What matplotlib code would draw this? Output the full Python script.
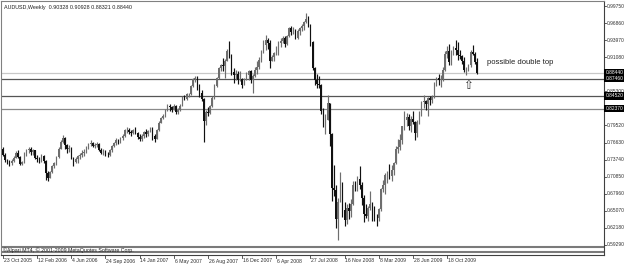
import matplotlib
matplotlib.use("Agg")
import matplotlib.pyplot as plt
import matplotlib.transforms as mtransforms
from matplotlib.lines import Line2D
import numpy as np

W, H = 625, 265

title_text = "AUDUSD,Weekly  0.90328 0.90928 0.88321 0.88440"
note_text = "possible double top"
copyright_text = "\u00a9Alpari MT4, \u00a9 2001-2009 MetaQuotes Software Corp."

# weekly candles, first bar = week of 23 Oct 2005
opens = [
    .7560, .7460, .7360, .7330, .7310, .7350, .7410, .7480, .7420, .7300,
    .7330, .7470, .7530, .7560, .7500, .7530, .7400, .7380, .7350, .7440,
    .7350, .7150, .7070, .7160, .7270, .7310, .7420, .7560, .7680, .7740,
    .7620, .7560, .7560, .7400, .7330, .7380, .7430, .7450, .7490, .7510,
    .7580, .7640, .7660, .7610, .7620, .7640, .7540, .7490, .7520, .7460,
    .7450, .7530, .7600, .7660, .7700, .7680, .7740, .7780, .7870, .7880,
    .7850, .7820, .7880, .7830, .7760, .7720, .7770, .7840, .7800, .7860,
    .7880, .7780, .7730, .7870, .8000, .8080, .8120, .8210, .8290, .8260,
    .8220, .8280, .8180, .8220, .8290, .8420, .8400, .8480, .8480, .8620,
    .8740, .8750, .8600, .8500, .8400, .8020, .8180, .8160, .8280, .8420,
    .8620, .8760, .8920, .8980, .8960, .9050, .9220, .9150, .8860, .8800,
    .8830, .8720, .8740, .8640, .8730, .8800, .8870, .8720, .8790, .8900,
    .8940, .9060, .9190, .9320, .9400, .9350, .9050, .9120, .9180, .9270,
    .9350, .9380, .9440, .9330, .9470, .9600, .9540, .9570, .9430, .9550,
    .9600, .9640, .9700, .9760, .9650, .9360, .8920, .8730, .8650, .8630,
    .8200, .8050, .8050, .8330, .7800, .6900, .6860, .6370, .6650, .6900,
    .6520, .6350, .6560, .6500, .6620, .6940, .6900, .7050, .6950, .6720,
    .6460, .6420, .6560, .6620, .6460, .6390, .6380, .6530, .6870, .6950,
    .7120, .7140, .7100, .7200, .7310, .7560, .7590, .7700, .7940, .8050,
    .8100, .7950, .8060, .8010, .7830, .8010, .8170, .8350, .8370, .8320,
    .8410, .8390, .8430, .8660, .8750, .8720, .8740, .8900, .9170, .9210,
    .9020, .9200, .9260, .9230, .9140, .9130, .9050, .8890, .8900, .8970,
    .9200, .9170, .90328,
]
highs = [
    .7590, .7480, .7380, .7360, .7380, .7430, .7520, .7530, .7440, .7350,
    .7500, .7560, .7590, .7580, .7560, .7540, .7450, .7420, .7470, .7460,
    .7370, .7180, .7180, .7290, .7330, .7440, .7580, .7700, .7790, .7760,
    .7640, .7620, .7580, .7420, .7420, .7450, .7480, .7530, .7550, .7600,
    .7660, .7700, .7680, .7650, .7670, .7660, .7570, .7560, .7540, .7500,
    .7550, .7620, .7680, .7740, .7720, .7760, .7800, .7890, .7920, .7910,
    .7880, .7900, .7920, .7850, .7800, .7800, .7860, .7890, .7880, .7920,
    .7920, .7800, .7890, .8020, .8100, .8140, .8230, .8320, .8320, .8290,
    .8320, .8300, .8250, .8320, .8450, .8460, .8500, .8500, .8640, .8760,
    .8790, .8790, .8660, .8560, .8420, .8210, .8260, .8300, .8450, .8660,
    .8770, .8950, .9000, .9090, .9080, .9250, .9380, .9170, .8920, .8890,
    .8880, .8880, .8760, .8760, .8850, .8900, .8900, .8820, .8940, .9040,
    .9120, .9230, .9400, .9480, .9440, .9400, .9150, .9200, .9290, .9390,
    .9440, .9460, .9460, .9490, .9620, .9640, .9620, .9590, .9580, .9620,
    .9670, .9720, .9850, .9800, .9670, .9390, .8950, .8830, .8790, .8660,
    .8250, .8150, .8460, .8340, .7820, .7280, .6950, .6720, .7160, .7000,
    .6660, .6630, .6640, .6700, .7010, .7020, .7100, .7270, .7000, .6780,
    .6620, .6590, .6850, .6660, .6590, .6450, .6550, .6890, .7030, .7150,
    .7190, .7300, .7280, .7340, .7600, .7720, .7800, .7950, .8200, .8170,
    .8140, .8110, .8200, .8030, .8050, .8200, .8370, .8460, .8390, .8440,
    .8450, .8470, .8680, .8780, .8830, .8800, .8950, .9220, .9290, .9330,
    .9230, .9300, .9400, .9370, .9230, .9150, .9110, .8940, .9000, .9230,
    .9320, .9200, .90928,
]
lows = [
    .7440, .7340, .7300, .7270, .7290, .7330, .7400, .7400, .7280, .7280,
    .7320, .7440, .7480, .7460, .7460, .7380, .7340, .7320, .7330, .7320,
    .7030, .7020, .7060, .7150, .7240, .7290, .7400, .7550, .7650, .7560,
    .7480, .7500, .7380, .7260, .7310, .7310, .7380, .7420, .7440, .7490,
    .7550, .7600, .7580, .7570, .7590, .7520, .7470, .7460, .7440, .7420,
    .7440, .7500, .7580, .7620, .7640, .7660, .7700, .7760, .7830, .7800,
    .7780, .7810, .7800, .7720, .7690, .7690, .7740, .7760, .7780, .7840,
    .7700, .7680, .7720, .7860, .7990, .8060, .8100, .8200, .8200, .8180,
    .8210, .8150, .8140, .8200, .8280, .8380, .8390, .8440, .8470, .8600,
    .8690, .8550, .8440, .8360, .7680, .7960, .8110, .8140, .8260, .8400,
    .8600, .8740, .8870, .8880, .8760, .9040, .9100, .8800, .8670, .8720,
    .8660, .8700, .8580, .8630, .8720, .8720, .8670, .8500, .8770, .8820,
    .8910, .9020, .9180, .9230, .9240, .8930, .9040, .9050, .9140, .9150,
    .9280, .9350, .9280, .9320, .9450, .9480, .9500, .9410, .9420, .9480,
    .9560, .9570, .9680, .9620, .9300, .8890, .8640, .8590, .8580, .8150,
    .7930, .7800, .8050, .7600, .6670, .6760, .6220, .6010, .6650, .6400,
    .6250, .6290, .6370, .6400, .6600, .6850, .6850, .6880, .6600, .6320,
    .6380, .6330, .6520, .6340, .6330, .6250, .6330, .6500, .6820, .6800,
    .6980, .7050, .7020, .7110, .7300, .7480, .7540, .7640, .7870, .7950,
    .7880, .7850, .7980, .7700, .7760, .7980, .8120, .8250, .8220, .8120,
    .8300, .8330, .8410, .8620, .8630, .8610, .8710, .8880, .9100, .8980,
    .8970, .9140, .9150, .9060, .9080, .9000, .8850, .8800, .8870, .8950,
    .9140, .9000, .88321,
]
closes = [
    .7460, .7360, .7330, .7310, .7350, .7410, .7480, .7420, .7300, .7330,
    .7470, .7530, .7560, .7500, .7530, .7400, .7380, .7350, .7440, .7350,
    .7150, .7070, .7160, .7270, .7310, .7420, .7560, .7680, .7740, .7620,
    .7560, .7560, .7400, .7330, .7380, .7430, .7450, .7490, .7510, .7580,
    .7640, .7660, .7610, .7620, .7640, .7540, .7490, .7520, .7460, .7450,
    .7530, .7600, .7660, .7700, .7680, .7740, .7780, .7870, .7880, .7850,
    .7820, .7880, .7830, .7760, .7720, .7770, .7840, .7800, .7860, .7880,
    .7780, .7730, .7870, .8000, .8080, .8120, .8210, .8290, .8260, .8220,
    .8280, .8180, .8220, .8290, .8420, .8400, .8480, .8480, .8620, .8740,
    .8750, .8600, .8500, .8400, .8020, .8180, .8160, .8280, .8420, .8620,
    .8760, .8920, .8980, .8960, .9050, .9220, .9150, .8860, .8800, .8830,
    .8720, .8740, .8640, .8730, .8800, .8870, .8720, .8790, .8900, .8940,
    .9060, .9190, .9320, .9400, .9350, .9050, .9120, .9180, .9270, .9350,
    .9380, .9440, .9330, .9470, .9600, .9540, .9570, .9430, .9550, .9600,
    .9640, .9700, .9760, .9650, .9360, .8920, .8730, .8650, .8630, .8200,
    .8050, .8050, .8330, .7800, .6900, .6860, .6370, .6650, .6900, .6520,
    .6350, .6560, .6500, .6620, .6940, .6900, .7050, .6950, .6720, .6460,
    .6420, .6560, .6620, .6460, .6390, .6380, .6530, .6870, .6950, .7120,
    .7140, .7100, .7200, .7310, .7560, .7590, .7700, .7940, .8050, .8100,
    .7950, .8060, .8010, .7830, .8010, .8170, .8350, .8370, .8320, .8410,
    .8390, .8430, .8660, .8750, .8720, .8740, .8900, .9170, .9210, .9020,
    .9200, .9260, .9230, .9140, .9130, .9050, .8890, .8900, .8970, .9200,
    .9170, .9030, .88440,
]

date_labels = ["23 Oct 2005", "12 Feb 2006", "4 Jun 2006", "24 Sep 2006",
               "14 Jan 2007", "6 May 2007", "26 Aug 2007", "16 Dec 2007",
               "6 Apr 2008", "27 Jul 2008", "16 Nov 2008", "8 Mar 2009",
               "28 Jun 2009", "18 Oct 2009"]
date_label_bars = [0, 16, 32, 48, 64, 80, 96, 112, 128, 144, 160, 176, 192, 208]

# grid prices of the right scale (0.88190 and 0.82410 are hidden under price boxes)
price_ticks = [0.99750, 0.96860, 0.93970, 0.91080, 0.85300,
               0.79520, 0.76630, 0.73740, 0.70850, 0.67960, 0.65070, 0.62180,
               0.59290]

level_prices = [0.88440, 0.87460, 0.84520, 0.82370]
level_colors = ["#c8c8c8", "#555555", "#555555", "#8a8a8a"]
bottom_levels = [0.5895, 0.5812]

note_arrow = "\u21e7"

# ---------------------------------------------------------------
fig = plt.figure(figsize=(W / 100, H / 100), dpi=100)
fig.patch.set_facecolor("white")
PL, PR, PT, PB = 1, 604, 1, 255
ax = fig.add_axes([PL / W, 1 - PB / H, (PR - PL) / W, (PB - PT) / H])
ax.set_facecolor("white")

px_per_bar = 2.135
x0_px = 3.0
ax.set_xlim((PL - x0_px) / px_per_bar, (PR - x0_px) / px_per_bar)
ppu = 590.7
ax.set_ylim(0.99750 - (PB - 6) / ppu, 0.99750 + (6 - PT) / ppu)

o = np.array(opens); h = np.array(highs); l = np.array(lows); c = np.array(closes)
idx = np.arange(len(c))
up = c >= o
bull_col = "#6e6e6e"
bear_col = "#111111"
ax.vlines(idx[up], l[up], h[up], color=bull_col, lw=0.85, zorder=3)
ax.vlines(idx[~up], l[~up], h[~up], color=bear_col, lw=0.85, zorder=3)
body_lo = np.minimum(o, c)
body_h = np.maximum(np.abs(c - o), 0.0008)
ax.bar(idx[up], body_h[up], bottom=body_lo[up], width=0.7, color=bull_col, lw=0, zorder=3)
ax.bar(idx[~up], body_h[~up], bottom=body_lo[~up], width=0.7, color=bear_col, lw=0, zorder=3)

for p, col in zip(level_prices, level_colors):
    ax.axhline(p, color=col, lw=0.9, zorder=2)
for p in bottom_levels:
    ax.axhline(p, color="#7a7a7a", lw=1.5, zorder=2)

ax.set_xticks([]); ax.set_yticks([])
for s in ["left", "top"]:
    ax.spines[s].set_color("#808080"); ax.spines[s].set_linewidth(0.8)
for s in ["right", "bottom"]:
    ax.spines[s].set_color("#404040"); ax.spines[s].set_linewidth(0.8)

font = "Liberation Sans"
blend_y = mtransforms.blended_transform_factory(fig.transFigure, ax.transData)
blend_x = mtransforms.blended_transform_factory(ax.transData, fig.transFigure)

# right price scale
for p in price_ticks:
    fig.add_artist(Line2D([PR / W, (PR + 2) / W], [p, p], transform=blend_y,
                          color="#404040", lw=0.6))
    fig.text((PR + 2.5) / W, p, f"{p:.5f}", transform=blend_y, fontsize=3.5,
             family=font, color="#303030", va="center", ha="left", zorder=3)
for p in level_prices:
    fig.text((PR + 1.5) / W, p, f"{p:.5f}", transform=blend_y, fontsize=3.5,
             family=font, color="white", va="center", ha="left", zorder=5,
             bbox=dict(boxstyle="square,pad=0.22", fc="black", ec="none"))

# bottom date scale
for b, lab in zip(date_label_bars, date_labels):
    fig.add_artist(Line2D([b, b], [1 - PB / H, 1 - (PB + 3) / H], transform=blend_x,
                          color="#404040", lw=0.6))
    fig.text(b + 0.4, 1 - 261 / H, lab, transform=blend_x, fontsize=3.7,
             family=font, color="#303030", va="center", ha="left")

fig.text(4 / W, 1 - 8 / H, title_text, fontsize=3.9, family=font,
         color="#202020", va="center", ha="left")
fig.text(487 / W, 1 - 63 / H, note_text, fontsize=5.5, family=font,
         color="#202020", va="center", ha="left")
fig.text(468 / W, 1 - 86 / H, note_arrow, fontsize=8.5, family="DejaVu Sans",
         color="#303030", va="center", ha="center")
fig.text(3 / W, 1 - 250 / H, copyright_text, fontsize=3.8, family=font,
         color="#202020", va="center", ha="left", zorder=4)

fig.savefig("out.png", dpi=100, facecolor="white")
